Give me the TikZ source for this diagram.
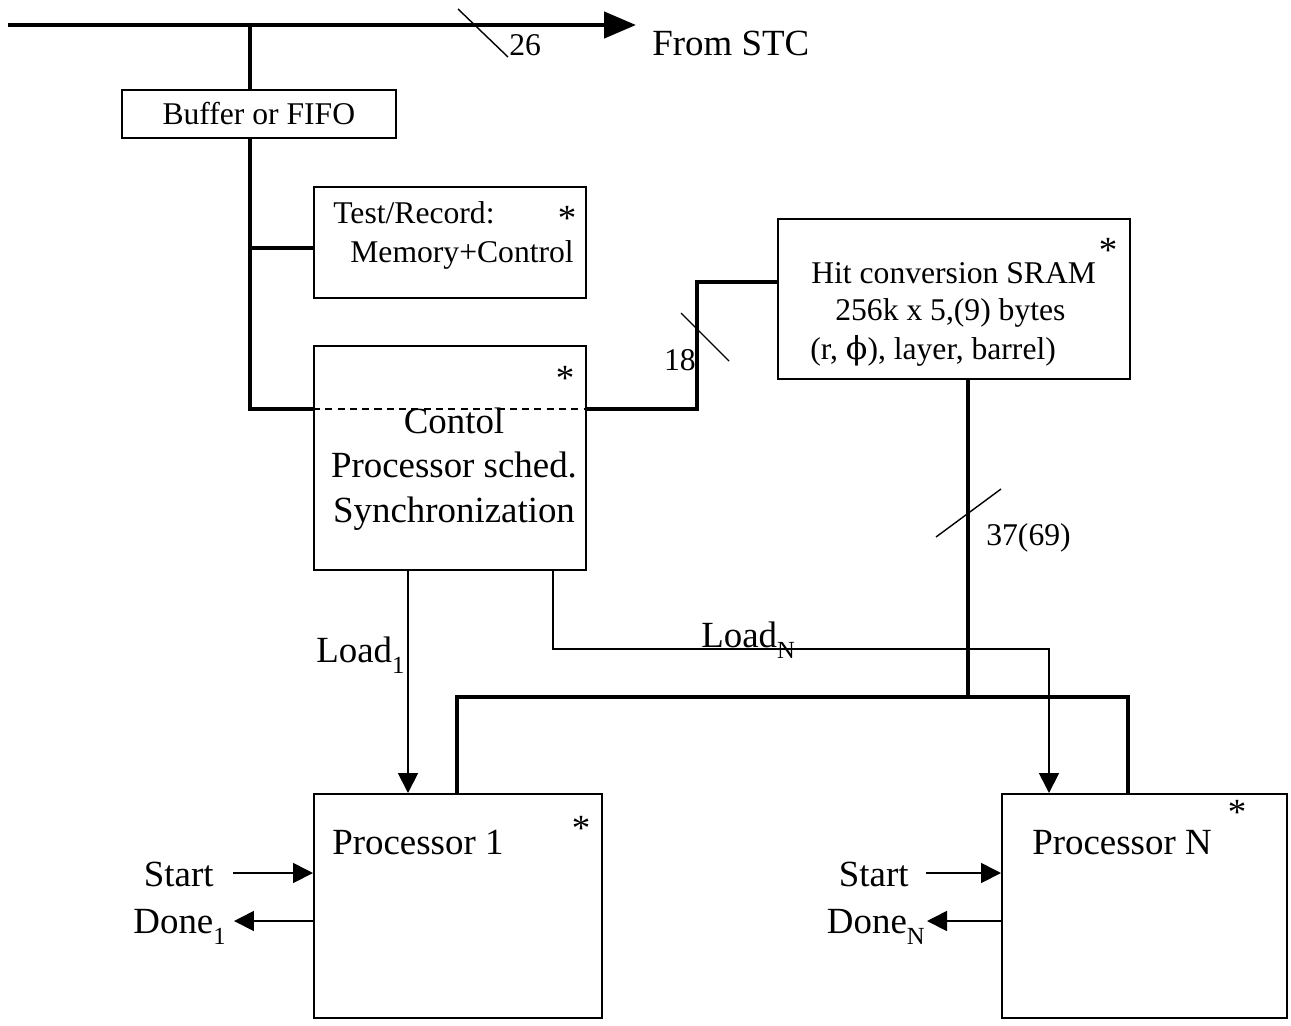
\documentclass[tikz,border=0pt]{standalone}
\usepackage{fontspec}
\setmainfont{Liberation Serif}
\newfontfamily\phifont{DejaVu Serif}
\usetikzlibrary{arrows.meta,positioning,calc}
\newcommand{\lowsub}[1]{\raisebox{-0.32em}{\fontsize{14}{14}\selectfont #1}}
\tikzset{
  blk/.style={draw,line width=1pt,anchor=north west,inner sep=0pt},
  busline/.style={line width=2.6pt},
  sig/.style={line width=1pt,-{Triangle[length=0.4cm,width=0.4cm]}},
  tick/.style={line width=0.8pt},
  lbl/.style={font=\fontsize{21}{25.5}\selectfont,inner sep=0pt},
  slbl/.style={font=\fontsize{18}{22}\selectfont,inner sep=0pt},
}

\begin{document}
\begin{tikzpicture}[x=0.02cm,y=-0.02cm]
  \useasboundingbox (0,0) rectangle (1291,1025);

  % boxes
  \node[blk,slbl,minimum width=5.48cm,minimum height=0.96cm] (buf) at (121,89) {Buffer or FIFO};
  \node[blk,minimum width=5.44cm,minimum height=2.22cm] (test) at (313,186) {};
  \node[blk,minimum width=5.44cm,minimum height=4.48cm] (ctrl) at (313,345) {};
  \node[blk,minimum width=7.04cm,minimum height=3.2cm] (hit) at (777,218) {};
  \node[blk,minimum width=5.76cm,minimum height=4.48cm] (p1) at (313,793) {};
  \node[blk,minimum width=5.7cm,minimum height=4.48cm] (pN) at (1001,793) {};

  % texts
  \node[lbl,anchor=base west] (stc) at (652,55) {From STC};
  \node[slbl,anchor=base west] (n26) at (509,55) {26};
  \node[slbl,anchor=base west] (testa) at (333,223) {Test/Record:};
  \node[slbl,anchor=base west] (testb) at (350,262) {Memory+Control};
  \node[lbl,align=center] (ctrltxt) at (454,469) {Contol\\Processor sched.\\Synchronization};
  \node[slbl,anchor=base west] (hita) at (811,283) {Hit conversion SRAM};
  \node[slbl,anchor=base west] (hitb) at (835,320) {256k x 5,(9) bytes};
  \node[slbl,anchor=base west] (hitc) at (810,359) {(r, {\phifont ϕ}), layer, barrel)};
  \node[slbl,anchor=base east] (n18) at (696,370) {18};
  \node[slbl,anchor=base west] (n37) at (986,545) {37(69)};
  \node[lbl,anchor=base west] (p1txt) at (332,854) {Processor 1};
  \node[lbl,anchor=base west] (pNtxt) at (1032,854) {Processor N};
  \node[lbl,anchor=base west] (load1) at (316,662) {Load\lowsub{1}};
  \node[lbl,anchor=base west] (loadN) at (701,647) {Load\lowsub{N}};
  \node[lbl,anchor=base east] (start1) at (214,886) {Start};
  \node[lbl,anchor=base east] (done1) at (226,933) {Done\lowsub{1}};
  \node[lbl,anchor=base east] (startN) at (909,886) {Start};
  \node[lbl,anchor=base east] (doneN) at (925,933) {Done\lowsub{N}};
  \foreach \nm/\x/\y in {st1/567/230, st2/565/390, st3/1108/262, st4/581/840, st5/1237/824}
    \node[lbl,anchor=base] (\nm) at (\x,\y) {*};

  % STC bus
  \coordinate (stcL) at (8,25);
  \coordinate (stcR) at (636,25);
  \coordinate (tap) at (250,25);
  \draw[busline,-{Triangle[length=0.64cm,width=0.52cm]}] (stcL) -- (stcR);
  \draw[tick] (458,9) -- (508,57);

  % buffer to control
  \coordinate (cin) at (313,409);
  \coordinate (cout) at (585,409);
  \draw[busline] (tap) -- (buf.north -| tap);
  \draw[busline] (buf.south -| tap) |- (cin);
  \draw[busline] (tap |- 0,248) -- (test.west |- 0,248);
  \draw[line width=1pt,dash pattern=on 4pt off 3pt] (cin) -- (cout);

  % control to hit conversion
  \coordinate (hbend) at (697,282);
  \draw[busline] (cout) -| (hbend) -- (hit.west |- hbend);
  \draw[tick] (681,313) -- (729,361);

  % hit conversion to processors
  \coordinate (bl) at (457,697);
  \coordinate (bj) at (968,697);
  \coordinate (br) at (1128,697);
  \draw[busline] (hit.south -| bj) -- (bj);
  \draw[busline] (p1.north -| bl) -- (bl) -- (br) -- (pN.north -| br);
  \draw[tick] (936,537) -- (1001,489);

  % load lines
  \coordinate (lnb) at (1049,649);
  \draw[sig] (ctrl.south -| 408,0) -- (p1.north -| 408,0);
  \draw[sig] (ctrl.south -| 553,0) |- (lnb) -- (pN.north -| lnb);

  % start / done
  \coordinate (s1) at (233,873);
  \coordinate (d1) at (234,921);
  \coordinate (sN) at (926,873);
  \coordinate (dN) at (927,921);
  \draw[sig] (s1) -- (p1.west |- s1);
  \draw[sig] (p1.west |- d1) -- (d1);
  \draw[sig] (sN) -- (pN.west |- sN);
  \draw[sig] (pN.west |- dN) -- (dN);
\end{tikzpicture}
\end{document}
